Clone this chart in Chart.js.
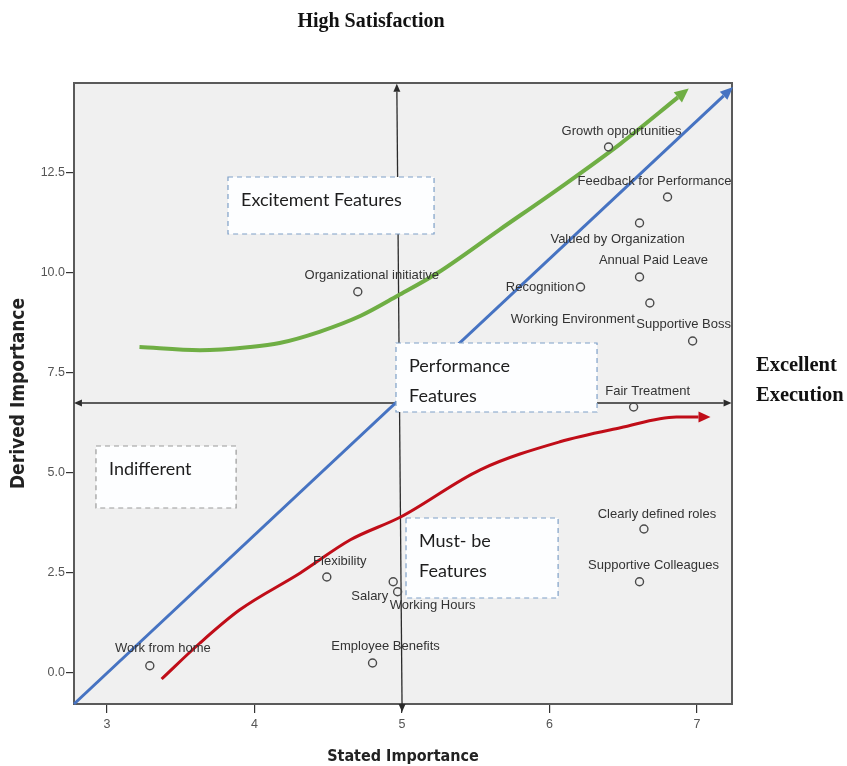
<!DOCTYPE html>
<html>
<head>
<title>Stated vs Derived Importance</title>
<style>
  body { margin: 0; background: #fff; }
</style>
<script src="https://cdn.jsdelivr.net/npm/chart.js"></script>
</head>
<body>
<canvas id="grid" width="847" height="766"></canvas>
<script>
// axis ranges and ticks
const xMin = 2.776, xMax = 7.237, yMin = -0.775, yMax = 14.75;
const xTicks = [3, 4, 5, 6, 7];
const yTicks = [0, 2.5, 5, 7.5, 10, 12.5];

// attributes (stated vs derived importance)
const attributes = ['Growth opportunities', 'Feedback for Performance', 'Valued by Organization', 'Annual Paid Leave',
  'Recognition', 'Working Environment', 'Supportive Boss', 'Fair Treatment', 'Clearly defined roles',
  'Supportive Colleagues', 'Organizational initiative', 'Flexibility', 'Salary', 'Working Hours',
  'Employee Benefits', 'Work from home'];
const statedImportance = [6.40, 6.80, 6.61, 6.61, 6.21, 6.68, 6.97, 6.57, 6.64, 6.61, 4.70, 4.49, 4.94, 4.97, 4.80, 3.29];
const derivedImportance = [13.15, 11.9, 11.25, 9.9, 9.65, 9.25, 8.3, 6.65, 3.6, 2.28, 9.53, 2.4, 2.28, 2.03, 0.25, 0.18];

// Kano style curves
const excitementX = [3.22, 3.63, 3.97, 4.17, 4.44, 4.72, 4.97, 5.24, 5.66, 6.07, 6.48, 6.87];
const excitementY = [8.15, 8.07, 8.15, 8.25, 8.53, 8.93, 9.43, 10.0, 11.08, 12.13, 13.23, 14.39];
const performanceX = [2.776, 7.18];
const performanceY = [-0.775, 14.43];
const mustBeX = [3.37, 3.63, 3.90, 4.31, 4.65, 4.99, 5.53, 6.07, 6.48, 6.86, 7.01];
const mustBeY = [-0.15, 0.75, 1.58, 2.5, 3.33, 3.9, 5.08, 5.78, 6.13, 6.4, 6.4];

// quadrant divider lines
const statedLineX = [5.0, 4.965];
const statedLineY = [yMin, 14.53];
const derivedLineX = [2.83, 7.18];
const derivedLineY = [6.75, 6.75];

// label placement next to each circle: [dx, dy, align]
const labelPlacement = {
  'Growth opportunities': [13, -16, 'center'],
  'Feedback for Performance': [-13, -16, 'center'],
  'Valued by Organization': [-22, 16, 'center'],
  'Annual Paid Leave': [14, -17, 'center'],
  'Recognition': [-6, 0, 'right'],
  'Working Environment': [-77, 16, 'center'],
  'Supportive Boss': [-9, -17, 'center'],
  'Fair Treatment': [14, -16, 'center'],
  'Clearly defined roles': [13, -15, 'center'],
  'Supportive Colleagues': [14, -16, 'center'],
  'Organizational initiative': [14, -16, 'center'],
  'Flexibility': [13, -16, 'center'],
  'Salary': [-5, 15, 'right'],
  'Working Hours': [35, 14, 'center'],
  'Employee Benefits': [13, -17, 'center'],
  'Work from home': [13, -17, 'center']
};

const featureBoxes = [
  { lines: ['Excitement Features'], x0: 3.82, x1: 5.217, y0: 12.4, y1: 10.975, border: '#7fa0c8' },
  { lines: ['Performance', 'Features'], x0: 4.959, x1: 6.322, y0: 8.25, y1: 6.525, border: '#7fa0c8' },
  { lines: ['Indifferent'], x0: 2.925, x1: 3.875, y0: 5.675, y1: 4.125, border: '#9a9a9a' },
  { lines: ['Must- be', 'Features'], x0: 5.027, x1: 6.058, y0: 3.875, y1: 1.875, border: '#7fa0c8' }
];

const zip = (xs, ys) => xs.map((x, i) => ({ x: x, y: ys[i] }));

function arrowHead(ctx, x, y, ang, len, wid, color) {
  ctx.save();
  ctx.translate(x, y);
  ctx.rotate(ang);
  ctx.beginPath();
  ctx.moveTo(len, 0);
  ctx.lineTo(0, -wid / 2);
  ctx.lineTo(0, wid / 2);
  ctx.closePath();
  ctx.fillStyle = color;
  ctx.fill();
  ctx.restore();
}

const framePlugin = {
  id: 'frame',
  beforeDatasetsDraw(chart) {
    const { ctx, chartArea: a } = chart;
    ctx.save();
    ctx.fillStyle = '#f0f0f0';
    ctx.fillRect(a.left, a.top, a.right - a.left, a.bottom - a.top);
    ctx.strokeStyle = '#5a5a5a';
    ctx.lineWidth = 2;
    ctx.strokeRect(a.left, a.top, a.right - a.left, a.bottom - a.top);
    ctx.restore();
  }
};

const arrowPlugin = {
  id: 'arrows',
  afterDatasetsDraw(chart) {
    const ctx = chart.ctx;
    chart.data.datasets.forEach((ds, i) => {
      const pts = chart.getDatasetMeta(i).data;
      if (ds.arrowEnd) {
        const p = pts[pts.length - 1], q = pts[pts.length - 2];
        arrowHead(ctx, p.x, p.y, Math.atan2(p.y - q.y, p.x - q.x), ds.arrowEnd[0], ds.arrowEnd[1], ds.borderColor);
      }
      if (ds.arrowStart) {
        const p = pts[0], q = pts[1];
        arrowHead(ctx, p.x, p.y, Math.atan2(p.y - q.y, p.x - q.x), ds.arrowStart[0], ds.arrowStart[1], ds.borderColor);
      }
    });

    // feature boxes, drawn over the lines
    const sx = chart.scales.x, sy = chart.scales.y;
    featureBoxes.forEach(b => {
      const l = sx.getPixelForValue(b.x0), r = sx.getPixelForValue(b.x1);
      const t = sy.getPixelForValue(b.y0), btm = sy.getPixelForValue(b.y1);
      ctx.save();
      ctx.fillStyle = '#fdfeff';
      ctx.fillRect(l, t, r - l, btm - t);
      ctx.setLineDash([5, 4]);
      ctx.strokeStyle = b.border;
      ctx.lineWidth = 1.2;
      ctx.strokeRect(l, t, r - l, btm - t);
      ctx.setLineDash([]);
      ctx.fillStyle = '#1e1e1e';
      ctx.font = '18px Lato';
      ctx.textAlign = 'left';
      ctx.textBaseline = 'middle';
      b.lines.forEach((s, k) => ctx.fillText(s, l + 13, t + 23 + k * 30));
      ctx.restore();
    });

    // point labels
    const meta = chart.getDatasetMeta(0);
    ctx.save();
    ctx.font = '13px "Liberation Sans"';
    ctx.fillStyle = '#333';
    ctx.textBaseline = 'middle';
    meta.data.forEach((pt, k) => {
      const name = attributes[k];
      const pl = labelPlacement[name] || [0, -16, 'center'];
      ctx.textAlign = pl[2];
      ctx.fillText(name, pt.x + pl[0], pt.y + pl[1]);
    });
    ctx.restore();
  },
  afterDraw(chart) {
    const ctx = chart.ctx;
    ctx.save();
    ctx.fillStyle = '#111';
    ctx.font = 'bold 20px "Liberation Serif"';
    ctx.textBaseline = 'middle';
    ctx.textAlign = 'center';
    ctx.fillText('High Satisfaction', 371, 22);
    ctx.font = 'bold 20.5px "Liberation Serif"';
    ctx.textAlign = 'left';
    ctx.fillText('Excellent', 756, 366);
    ctx.fillText('Execution', 756, 396);
    ctx.restore();
  }
};

new Chart(document.getElementById('grid'), {
  type: 'scatter',
  data: {
    datasets: [
      {
        label: 'Attributes',
        data: zip(statedImportance, derivedImportance),
        pointStyle: 'circle',
        pointRadius: 4,
        borderColor: '#4a4a4a',
        borderWidth: 1.4,
        backgroundColor: 'rgba(0,0,0,0)',
        order: 0
      },
      {
        label: 'Stated divider',
        data: zip(statedLineX, statedLineY),
        showLine: true, pointRadius: 0, borderColor: '#2b2b2b', borderWidth: 1.3,
        arrowEnd: [8, 7], arrowStart: [8, 7], clip: false, order: 5
      },
      {
        label: 'Derived divider',
        data: zip(derivedLineX, derivedLineY),
        showLine: true, pointRadius: 0, borderColor: '#2b2b2b', borderWidth: 1.3,
        arrowEnd: [8, 7], arrowStart: [8, 7], clip: false, order: 5
      },
      {
        label: 'Excitement',
        data: zip(excitementX, excitementY),
        showLine: true, pointRadius: 0, borderColor: '#6fae44', borderWidth: 4,
        cubicInterpolationMode: 'monotone', arrowEnd: [14, 13], clip: false, order: 3
      },
      {
        label: 'Performance',
        data: zip(performanceX, performanceY),
        showLine: true, pointRadius: 0, borderColor: '#4673c2', borderWidth: 3,
        arrowEnd: [13, 11], clip: false, order: 2
      },
      {
        label: 'Must-be',
        data: zip(mustBeX, mustBeY),
        showLine: true, pointRadius: 0, borderColor: '#c00d18', borderWidth: 3,
        cubicInterpolationMode: 'monotone', arrowEnd: [12, 11], clip: false, order: 2
      }
    ]
  },
  options: {
    responsive: false,
    animation: false,
    devicePixelRatio: 1,
    layout: { padding: { top: 83, right: 115, left: 0, bottom: 0 } },
    plugins: { legend: { display: false }, tooltip: { enabled: false } },
    scales: {
      x: {
        type: 'linear', min: xMin, max: xMax,
        afterFit: s => { s.height = 62; },
        afterBuildTicks: s => { s.ticks = xTicks.map(v => ({ value: v })); },
        border: { display: false },
        grid: { drawOnChartArea: false, drawTicks: true, tickLength: 9, tickColor: '#333', lineWidth: 1.2 },
        ticks: { color: '#555', padding: 4, maxRotation: 0, font: { family: 'Liberation Sans', size: 12.5 }, callback: v => String(v) },
        title: {
          display: true, text: 'Stated Importance', color: '#222',
          font: { family: 'DejaVu Sans Condensed', weight: 'bold', size: 16 },
          padding: { top: 0, bottom: 0 }
        }
      },
      y: {
        type: 'linear', min: yMin, max: yMax,
        afterFit: s => { s.width = 74; },
        afterBuildTicks: s => { s.ticks = yTicks.map(v => ({ value: v })); },
        border: { display: false },
        grid: { drawOnChartArea: false, drawTicks: true, tickLength: 8, tickColor: '#333', lineWidth: 1.2 },
        ticks: { color: '#555', padding: 1, font: { family: 'Liberation Sans', size: 12.5 }, callback: v => v.toFixed(1) },
        title: {
          display: true, text: 'Derived Importance', color: '#222',
          font: { family: 'DejaVu Sans Condensed', weight: 'bold', size: 19 },
          padding: { top: 8, bottom: 0 }
        }
      }
    }
  },
  plugins: [framePlugin, arrowPlugin]
});
</script>
</body>
</html>
